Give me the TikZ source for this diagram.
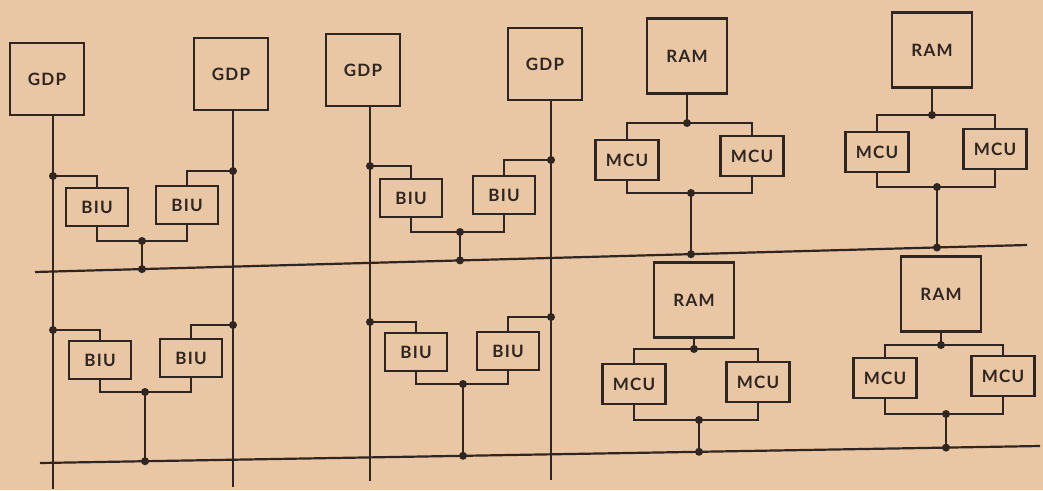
\documentclass[tikz,border=0pt]{standalone}
\usepackage{fontspec}
\newfontfamily\unitfont{Lato}[LetterSpace=7.0]
\definecolor{paperc}{HTML}{E9C6A4}
\definecolor{inkc}{HTML}{2F2621}

\tikzset{
  unitbox/.style={draw=inkc, line width=2.2pt, inner sep=0pt, text=inkc,
    font={\unitfont\bfseries\fontsize{17}{20}\selectfont}},
  gdpbox/.style={unitbox, minimum width=74pt, minimum height=72pt},
  rambox/.style={unitbox, minimum width=80pt, minimum height=75pt},
  biubox/.style={unitbox, minimum width=62pt, minimum height=38pt},
  mcubox/.style={unitbox, minimum width=63pt, minimum height=40pt},
  junc/.style={circle, fill=inkc, inner sep=0pt, minimum size=8pt},
  wire/.style={draw=inkc, line width=1.7pt},
  bus/.style={draw=inkc, line width=2.2pt},
}

\begin{document}
\begin{tikzpicture}[x=1pt, y=-1pt]
  \useasboundingbox (0,0) rectangle (1043,490);
  \fill[paperc] (0,0) rectangle (1043,490);
  % the two buses
  \coordinate (busTL) at (35,272); \coordinate (busTR) at (1027,245);
  \coordinate (busBL) at (40,463); \coordinate (busBR) at (1040,446);
  \draw[bus] (busTL) -- (busTR);
  \draw[bus] (busBL) -- (busBR);

  % processor pair, left
  \node[gdpbox] (gdpA) at (47,79) {GDP};
  \node[gdpbox] (gdpB) at (231,74) {GDP};
  \coordinate (endA) at (53,489); \coordinate (endB) at (233,487);
  \draw[wire] (gdpA.south -| endA) -- (endA);
  \draw[wire] (gdpB.south -| endB) -- (endB);
  \node[biubox] (biuA) at (97,207) {BIU};
  \node[biubox] (biuB) at (187,205) {BIU};
  \node[junc] (jA) at (53,176) {}; \node[junc] (jB) at (233,171) {};
  \draw[wire] (jA.center) -| (biuA.north); \draw[wire] (jB.center) -| (biuB.north);
  \node[junc] (jAB) at (142,241) {};
  \draw[wire] (biuA.south) |- (jAB.center) -| (biuB.south);
  \node[junc] (tAB) at (142,269.1) {};
  \draw[wire] (jAB.center) -- (tAB.center);
  \node[biubox] (biuC) at (100,360) {BIU};
  \node[biubox] (biuD) at (191,358) {BIU};
  \node[junc] (jC) at (53,330) {}; \node[junc] (jD) at (233,325) {};
  \draw[wire] (jC.center) -| (biuC.north); \draw[wire] (jD.center) -| (biuD.north);
  \node[junc] (jCD) at (145,392) {};
  \draw[wire] (biuC.south) |- (jCD.center) -| (biuD.south);
  \node[junc] (tCD) at (145,461.2) {};
  \draw[wire] (jCD.center) -- (tCD.center);

  % processor pair, middle
  \node[gdpbox] (gdpC) at (363,70) {GDP};
  \node[gdpbox] (gdpD) at (545,64) {GDP};
  \coordinate (endC) at (370,481); \coordinate (endD) at (551,480);
  \draw[wire] (gdpC.south -| endC) -- (endC);
  \draw[wire] (gdpD.south -| endD) -- (endD);
  \node[biubox] (biuE) at (411,198) {BIU};
  \node[biubox] (biuF) at (504,195) {BIU};
  \node[junc] (jE) at (370,166) {}; \node[junc] (jF) at (551,160) {};
  \draw[wire] (jE.center) -| (biuE.north); \draw[wire] (jF.center) -| (biuF.north);
  \node[junc] (jEF) at (460,232) {};
  \draw[wire] (biuE.south) |- (jEF.center) -| (biuF.south);
  \node[junc] (tEF) at (460,260.4) {};
  \draw[wire] (jEF.center) -- (tEF.center);
  \node[biubox] (biuG) at (416,352) {BIU};
  \node[biubox] (biuH) at (508,351) {BIU};
  \node[junc] (jG) at (370,322) {}; \node[junc] (jH) at (551,317) {};
  \draw[wire] (jG.center) -| (biuG.north); \draw[wire] (jH.center) -| (biuH.north);
  \node[junc] (jGH) at (463,384) {};
  \draw[wire] (biuG.south) |- (jGH.center) -| (biuH.south);
  \node[junc] (tGH) at (463,455.8) {};
  \draw[wire] (jGH.center) -- (tGH.center);

  % memory modules, upper bus
  \node[rambox] (ramA) at (687,56) {RAM};
  \node[mcubox] (mcuA) at (627,160) {MCU};
  \node[mcubox] (mcuB) at (752,156) {MCU};
  \node[junc] (jRA) at (687,123) {}; \node[junc] (jMA) at (691,193) {};
  \draw[wire] (ramA.south) -- (jRA.center);
  \draw[wire] (mcuA.north) |- (jRA.center) -| (mcuB.north);
  \draw[wire] (mcuA.south) |- (jMA.center) -| (mcuB.south);
  \node[junc] (tMA) at (691,254.2) {};
  \draw[wire] (jMA.center) -- (tMA.center);
  \node[rambox] (ramB) at (932,50) {RAM};
  \node[mcubox] (mcuC) at (877,152) {MCU};
  \node[mcubox] (mcuD) at (995,149) {MCU};
  \node[junc] (jRB) at (932,115) {}; \node[junc] (jMB) at (937,187) {};
  \draw[wire] (ramB.south) -- (jRB.center);
  \draw[wire] (mcuC.north) |- (jRB.center) -| (mcuD.north);
  \draw[wire] (mcuC.south) |- (jMB.center) -| (mcuD.south);
  \node[junc] (tMB) at (937,247.5) {};
  \draw[wire] (jMB.center) -- (tMB.center);

  % memory modules, lower bus
  \node[rambox] (ramC) at (694,300) {RAM};
  \node[mcubox] (mcuE) at (634,384) {MCU};
  \node[mcubox] (mcuF) at (758,382) {MCU};
  \node[junc] (jRC) at (694,349) {}; \node[junc] (jMC) at (699,420) {};
  \draw[wire] (ramC.south) -- (jRC.center);
  \draw[wire] (mcuE.north) |- (jRC.center) -| (mcuF.north);
  \draw[wire] (mcuE.south) |- (jMC.center) -| (mcuF.south);
  \node[junc] (tMC) at (699,451.8) {};
  \draw[wire] (jMC.center) -- (tMC.center);
  \node[rambox] (ramD) at (941,294) {RAM};
  \node[mcubox] (mcuG) at (885,378) {MCU};
  \node[mcubox] (mcuH) at (1003,376) {MCU};
  \node[junc] (jRD) at (941,345) {}; \node[junc] (jMD) at (946,414) {};
  \draw[wire] (ramD.south) -- (jRD.center);
  \draw[wire] (mcuG.north) |- (jRD.center) -| (mcuH.north);
  \draw[wire] (mcuG.south) |- (jMD.center) -| (mcuH.south);
  \node[junc] (tMD) at (946,447.6) {};
  \draw[wire] (jMD.center) -- (tMD.center);
\end{tikzpicture}
\end{document}
